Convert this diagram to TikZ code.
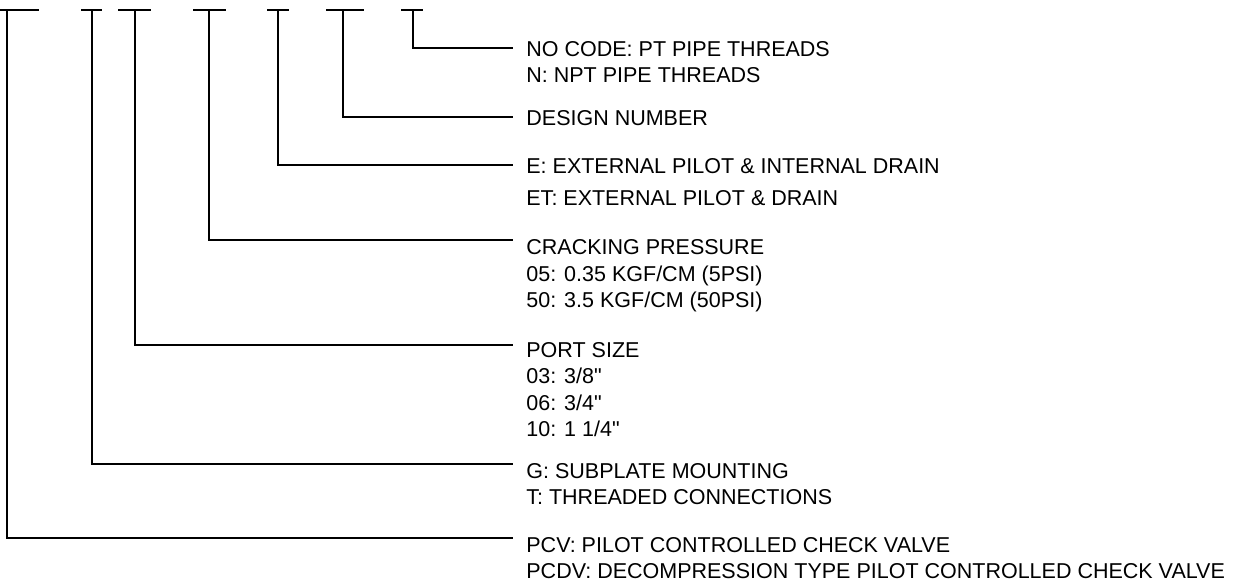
\documentclass[tikz,border=0pt]{standalone}
\usepackage{fontspec}
\setmainfont{Liberation Sans}
\usetikzlibrary{positioning}
\tikzset{
  codeline/.style={line width=1pt, black},
  desc/.style={
    anchor=north west, align=left, inner sep=0pt,
    font=\fontsize{10.75}{13.25}\selectfont,
  },
}

\begin{document}
\begin{tikzpicture}[x=0.5pt, y=-0.5pt]
\useasboundingbox (0,0) rectangle (1236,582);

% ── code field ticks along the top ─────────────────────────────────────
\foreach \n/\l/\r/\s in {pcv/0/39/7, mnt/81/102/92, port/118/151/135,
    crk/193/226/209, pil/267/289/278, dsn/326/364/343, thr/401/423/413}{
  \draw[codeline] (\l,10) -- (\r,10);
  \coordinate (\n) at (\s,10);
}

% ── elbow ends, one per field ─────────────────────────────────────────
\coordinate (thrE)  at (513,48);
\coordinate (dsnE)  at (513,117);
\coordinate (pilE)  at (513,165);
\coordinate (crkE)  at (513,240);
\coordinate (portE) at (513,345);
\coordinate (mntE)  at (513,464);
\coordinate (pcvE)  at (513,538);

% ── descriptions ──────────────────────────────────────────────────────
\node[desc] (thrtxt) at (526,41)
  {NO CODE: PT PIPE THREADS\\N: NPT PIPE THREADS};
\node[desc] (dsntxt) at (526,110) {DESIGN NUMBER};
\node[desc] (piltxt) at (526,158)
  {E: EXTERNAL PILOT \& INTERNAL DRAIN\\[2.75pt]ET: EXTERNAL PILOT \& DRAIN};
\node[desc] (crktxt) at (526,239.5)
  {CRACKING PRESSURE\\05: 0.35 KGF/CM (5PSI)\\50: 3.5 KGF/CM (50PSI)};
\node[desc] (porttxt) at (526,342)
  {PORT SIZE\\03: 3/8\textquotedbl\\06: 3/4\textquotedbl\\10: 1 1/4\textquotedbl};
\node[desc] (mnttxt) at (526,463)
  {G: SUBPLATE MOUNTING\\T: THREADED CONNECTIONS};
\node[desc] (pcvtxt) at (526,537)
  {PCV: PILOT CONTROLLED CHECK VALVE\\PCDV: DECOMPRESSION TYPE PILOT CONTROLLED CHECK VALVE};

% ── leaders: tick down, then across to the text ───────────────────────
\draw[codeline] (thr)  |- (thrE);
\draw[codeline] (dsn)  |- (dsnE);
\draw[codeline] (pil)  |- (pilE);
\draw[codeline] (crk)  |- (crkE);
\draw[codeline] (port) |- (portE);
\draw[codeline] (mnt)  |- (mntE);
\draw[codeline] (pcv)  |- (pcvE);

\end{tikzpicture}
\end{document}
